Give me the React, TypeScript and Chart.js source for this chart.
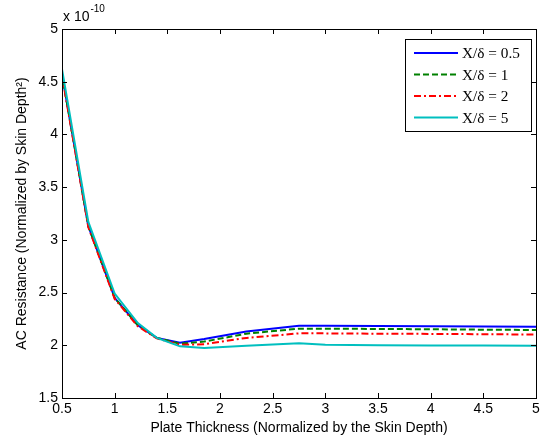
import React, { useEffect, useRef } from "react";
import { Chart, registerables } from "chart.js";
Chart.register(...registerables);

const thickness = [0.5, 0.75, 1.0, 1.22, 1.4, 1.62, 1.85, 2.25, 2.75, 3.0, 3.5, 4.0, 4.5, 5.0];
const seriesHalf = [4.57, 3.13, 2.45, 2.19, 2.07, 2.025, 2.06, 2.13, 2.185, 2.185, 2.182, 2.18, 2.178, 2.176];
const seriesOne = [4.57, 3.13, 2.45, 2.19, 2.07, 2.015, 2.035, 2.11, 2.158, 2.158, 2.155, 2.152, 2.148, 2.145];
const seriesTwo = [4.56, 3.12, 2.44, 2.18, 2.065, 2.005, 2.01, 2.07, 2.113, 2.113, 2.11, 2.108, 2.105, 2.102];
const seriesFive = [4.62, 3.17, 2.49, 2.21, 2.07, 1.99, 1.975, 1.995, 2.02, 2.005, 2.0, 1.998, 1.997, 1.996];
const seriesLabels = ["X/δ = 0.5", "X/δ = 1", "X/δ = 2", "X/δ = 5"];
const xTicks = [0.5, 1, 1.5, 2, 2.5, 3, 3.5, 4, 4.5, 5];
const yTicks = [1.5, 2, 2.5, 3, 3.5, 4, 4.5, 5];

const colors = ["#0000ff", "#008000", "#ff0000", "#00bfbf"];
const dashes: number[][] = [[], [6, 3], [7, 3, 2, 3], []];

const SANS = "'Liberation Sans', Arial, sans-serif";
const SERIF = "'Liberation Serif', 'Times New Roman', serif";

const decorPlugin = {
  id: "decor",
  afterDraw(chart: any) {
    const ctx = chart.ctx;
    const { left, right, top, bottom } = chart.chartArea;
    const xs = chart.scales.x;
    const ys = chart.scales.y;
    ctx.save();
    ctx.strokeStyle = "#000";
    ctx.lineWidth = 1;
    ctx.setLineDash([]);
    ctx.strokeRect(Math.round(left) + 0.5, Math.round(top) + 0.5, Math.round(right - left), Math.round(bottom - top));
    const tl = 5;
    ctx.beginPath();
    xTicks.forEach((v) => {
      const px = Math.round(xs.getPixelForValue(v)) + 0.5;
      ctx.moveTo(px, bottom);
      ctx.lineTo(px, bottom - tl);
      ctx.moveTo(px, top);
      ctx.lineTo(px, top + tl);
    });
    yTicks.forEach((v) => {
      const py = Math.round(ys.getPixelForValue(v)) + 0.5;
      ctx.moveTo(left, py);
      ctx.lineTo(left + tl, py);
      ctx.moveTo(right, py);
      ctx.lineTo(right - tl, py);
    });
    ctx.stroke();

    ctx.fillStyle = "#000";
    ctx.font = `14px ${SANS}`;
    ctx.textAlign = "center";
    ctx.textBaseline = "middle";
    ctx.fillText("Plate Thickness (Normalized by the Skin Depth)", (left + right) / 2, 428);
    ctx.save();
    ctx.translate(22, (top + bottom) / 2);
    ctx.rotate(-Math.PI / 2);
    ctx.fillText("AC Resistance (Normalized by Skin Depth²)", 0, 0);
    ctx.restore();

    ctx.textAlign = "left";
    ctx.textBaseline = "alphabetic";
    ctx.font = `14px ${SANS}`;
    ctx.fillText("x 10", 63, 21);
    const w = ctx.measureText("x 10").width;
    ctx.font = `10px ${SANS}`;
    ctx.fillText("-10", 63 + w + 1, 12);

    const lx = 405, ly = 39, lw = 126, lh = 92;
    ctx.fillStyle = "#fff";
    ctx.fillRect(lx, ly, lw, lh);
    ctx.strokeStyle = "#000";
    ctx.lineWidth = 1;
    ctx.strokeRect(lx + 0.5, ly + 0.5, lw, lh);
    ctx.font = `14px ${SERIF}`;
    const mw = ctx.measureText(seriesLabels[0]).width || 54;
    let fs = (14 * 58) / mw;
    fs = Math.max(12, Math.min(17, fs));
    const rows = [53, 74.5, 96, 117.5];
    rows.forEach((ry, i) => {
      ctx.strokeStyle = colors[i];
      ctx.lineWidth = 2;
      ctx.setLineDash(dashes[i]);
      ctx.beginPath();
      ctx.moveTo(414, ry);
      ctx.lineTo(458, ry);
      ctx.stroke();
      ctx.setLineDash([]);
      ctx.fillStyle = "#000";
      ctx.font = `${fs.toFixed(1)}px ${SERIF}`;
      ctx.textBaseline = "middle";
      ctx.fillText(seriesLabels[i], 462, ry + 1);
    });
    ctx.restore();
  },
};

export default function App() {
  const ref = useRef<HTMLCanvasElement | null>(null);
  useEffect(() => {
    if (!ref.current) return;
    const all = [seriesHalf, seriesOne, seriesTwo, seriesFive];
    const chart = new Chart(ref.current, {
      type: "line",
      data: {
        datasets: all.map((s, i) => ({
          label: seriesLabels[i],
          data: thickness.map((x, j) => ({ x, y: s[j] })),
          borderColor: colors[i],
          borderWidth: 2,
          borderDash: dashes[i],
          pointRadius: 0,
          fill: false,
          tension: 0,
          order: 3 - i,
        })),
      },
      options: {
        responsive: false,
        animation: false,
        layout: { padding: { left: 0, right: 7, top: 29, bottom: 0 } },
        plugins: { legend: { display: false }, tooltip: { enabled: false } },
        scales: {
          x: {
            type: "linear",
            min: 0.5,
            max: 5,
            grid: { display: false, drawTicks: false },
            border: { display: false },
            afterBuildTicks: (s: any) => {
              s.ticks = xTicks.map((v) => ({ value: v }));
            },
            afterFit: (s: any) => {
              s.height = 43;
            },
            ticks: {
              padding: 3,
              color: "#000",
              font: { family: SANS, size: 14 },
              maxRotation: 0,
              autoSkip: false,
              callback: (v: any) => String(v),
            },
          },
          y: {
            type: "linear",
            min: 1.5,
            max: 5,
            grid: { display: false, drawTicks: false },
            border: { display: false },
            afterBuildTicks: (s: any) => {
              s.ticks = yTicks.map((v) => ({ value: v }));
            },
            afterFit: (s: any) => {
              s.width = 62;
            },
            ticks: {
              padding: 4,
              color: "#000",
              font: { family: SANS, size: 14 },
              autoSkip: false,
              callback: (v: any) => String(v),
            },
          },
        },
      },
      plugins: [decorPlugin],
    });
    return () => chart.destroy();
  }, []);
  return (
    <div style={{ position: "fixed", left: 0, top: 0, width: 543, height: 441, background: "#fff" }}>
      <canvas ref={ref} width={543} height={441} style={{ width: 543, height: 441 }} />
    </div>
  );
}
